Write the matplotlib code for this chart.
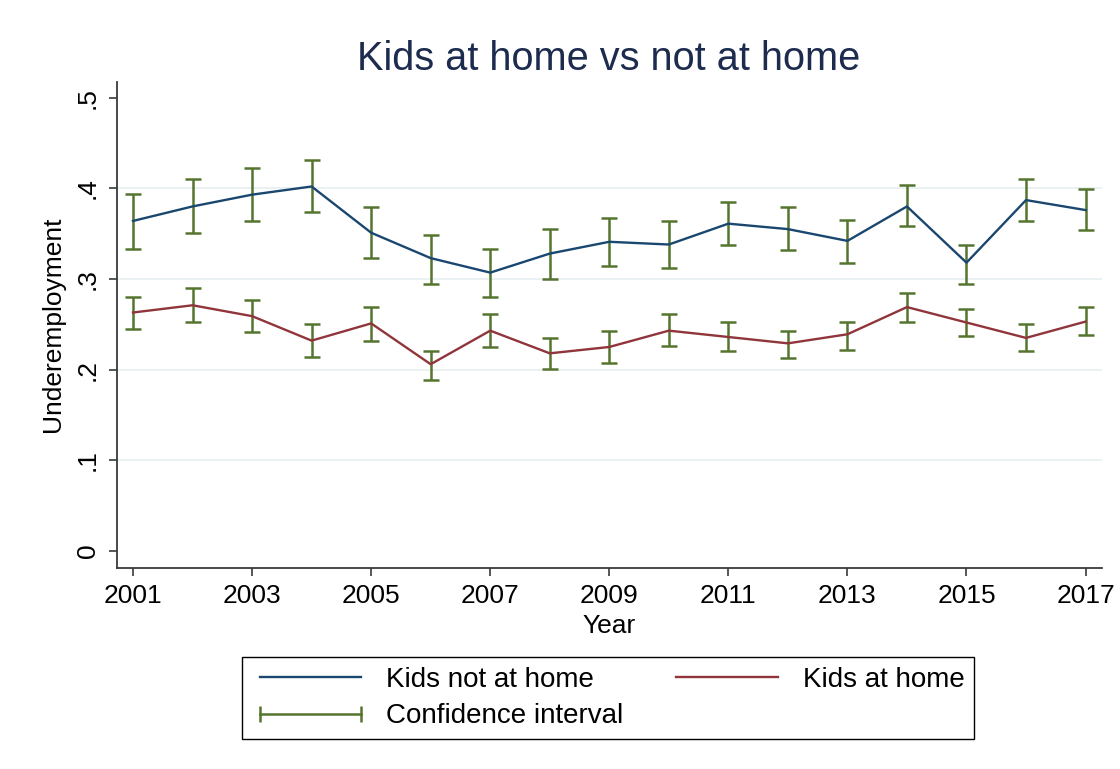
import matplotlib.pyplot as plt
from matplotlib.lines import Line2D

plt.rcParams["font.family"] = ["Liberation Sans", "DejaVu Sans"]

years = list(range(2001, 2018))

# kids not at home
away_mean = [0.364, 0.380, 0.393, 0.402, 0.351, 0.323, 0.307, 0.328, 0.341,
             0.338, 0.361, 0.355, 0.342, 0.380, 0.318, 0.387, 0.376]
away_lo = [0.333, 0.351, 0.364, 0.374, 0.323, 0.295, 0.280, 0.300, 0.314,
           0.312, 0.337, 0.332, 0.318, 0.358, 0.294, 0.364, 0.354]
away_hi = [0.394, 0.410, 0.422, 0.431, 0.379, 0.349, 0.333, 0.355, 0.367,
           0.364, 0.385, 0.379, 0.365, 0.404, 0.338, 0.410, 0.399]

# kids at home
home_mean = [0.263, 0.271, 0.259, 0.232, 0.251, 0.206, 0.243, 0.218, 0.225,
             0.243, 0.236, 0.229, 0.239, 0.269, 0.252, 0.235, 0.253]
home_lo = [0.245, 0.253, 0.241, 0.214, 0.232, 0.189, 0.225, 0.201, 0.207,
           0.226, 0.221, 0.213, 0.222, 0.253, 0.237, 0.221, 0.238]
home_hi = [0.280, 0.290, 0.277, 0.250, 0.269, 0.221, 0.261, 0.235, 0.243,
           0.261, 0.252, 0.243, 0.253, 0.285, 0.267, 0.250, 0.269]

xticks = list(range(2001, 2018, 2))
yticks = [0, 0.1, 0.2, 0.3, 0.4, 0.5]
ytick_labels = ["0", ".1", ".2", ".3", ".4", ".5"]

navy = "#1a476f"
maroon = "#90353b"
green = "#55752f"
axis_col = "#3a3a3a"

fig = plt.figure(figsize=(11.2, 7.69), dpi=100)
ax = fig.add_axes([0.1042, 0.2618, 0.8795, 0.632])

for mean, lo, hi in [(away_mean, away_lo, away_hi), (home_mean, home_lo, home_hi)]:
    err = [[m - l for m, l in zip(mean, lo)], [h - m for m, h in zip(mean, hi)]]
    ax.errorbar(years, mean, yerr=err, fmt="none", ecolor=green,
                elinewidth=1.8, capsize=5.5, capthick=1.8, zorder=2)

ax.plot(years, away_mean, color=navy, lw=1.7, zorder=3)
ax.plot(years, home_mean, color=maroon, lw=1.7, zorder=3)

ax.set_xlim(2000.726, 2017.272)
ax.set_ylim(-0.0184, 0.5176)

# grid lines only at inner ticks
for g in yticks[1:-1]:
    ax.axhline(g, color="#e6eff1", lw=1.2, zorder=1)

ax.set_xticks(xticks)
ax.set_xticklabels([str(x) for x in xticks], fontsize=19)
ax.set_yticks(yticks)
ax.set_yticklabels(ytick_labels, fontsize=19, rotation=90, va="center")
ax.tick_params(direction="out", length=6, width=1.2, color=axis_col, pad=6)

for s in ["top", "right"]:
    ax.spines[s].set_visible(False)
for s in ["left", "bottom"]:
    ax.spines[s].set_color(axis_col)
    ax.spines[s].set_linewidth(1.3)

ax.set_xlabel("Year", fontsize=19, labelpad=4)
ax.set_ylabel("Underemployment", fontsize=19, labelpad=8)

fig.text(0.5433, 0.923, "Kids at home vs not at home", fontsize=28.6,
         color="#1c2b4e", ha="center", va="center")

handles = [
    Line2D([], [], color=navy, lw=1.7),
    Line2D([], [], color=green, lw=1.8, marker="|", markersize=11, markeredgewidth=1.8),
    Line2D([], [], color=maroon, lw=1.7),
]
labels = ["Kids not at home", "Confidence interval", "Kids at home"]
leg = fig.legend(handles, labels, loc="center", bbox_to_anchor=(608 / 1120, 1 - 698 / 769),
                 ncol=2, fontsize=20, handlelength=4.25, columnspacing=1.6, numpoints=2,
                 fancybox=False, edgecolor="black", framealpha=1, borderpad=0.35,
                 labelspacing=0.38, handletextpad=0.6)
leg.get_frame().set_linewidth(1.0)

fig.savefig("out.png", dpi=100, facecolor="white")
